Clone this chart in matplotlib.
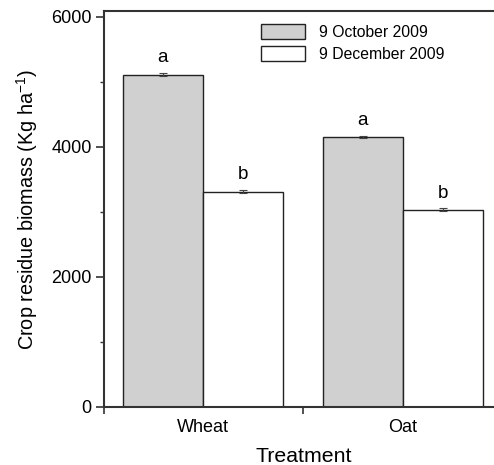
import matplotlib
matplotlib.use("Agg")
import matplotlib.pyplot as plt
import numpy as np
from matplotlib.ticker import FixedLocator, MultipleLocator
from matplotlib.patches import Patch

plt.rcParams['font.family'] = ['Liberation Sans', 'DejaVu Sans']

treatments = ["Wheat", "Oat"]
dates = ["9 October 2009", "9 December 2009"]
oct_vals = [5110, 4150]
dec_vals = [3310, 3030]
oct_err = [20, 20]
dec_err = [20, 20]
oct_letters = ["a", "a"]
dec_letters = ["b", "b"]

fig = plt.figure(figsize=(4.94, 4.65), dpi=100)
ax = fig.add_axes([104/494, 1-406.7/465, 399/494, (406.7-11)/465])

x = np.arange(len(treatments))
w = 0.4
ec = "#222222"
ekw = dict(ecolor="#444444", elinewidth=0.8, capsize=3, capthick=0.8)
ax.bar(x - w/2, oct_vals, w, color="#d0d0d0", edgecolor=ec, linewidth=1.0,
       yerr=oct_err, error_kw=ekw)
ax.bar(x + w/2, dec_vals, w, color="white", edgecolor=ec, linewidth=1.0,
       yerr=dec_err, error_kw=ekw)

for xi, v, e, t in zip(x - w/2, oct_vals, oct_err, oct_letters):
    ax.annotate(t, (xi, v + e), xytext=(0, 5), textcoords="offset points",
                ha="center", va="bottom", fontsize=13.5)
for xi, v, e, t in zip(x + w/2, dec_vals, dec_err, dec_letters):
    ax.annotate(t, (xi, v + e), xytext=(0, 5), textcoords="offset points",
                ha="center", va="bottom", fontsize=13.5)

ax.set_xlim(-0.495, 1.5)
ax.set_ylim(0, 6088)
ax.set_yticks([0, 2000, 4000, 6000])
ax.yaxis.set_minor_locator(MultipleLocator(1000))
ax.tick_params(axis="y", which="major", direction="out", length=6, width=1.2,
               labelsize=13, color="#333333", pad=3)
ax.tick_params(axis="y", which="minor", direction="out", length=3, width=1.0, color="#333333")

ax.set_xticks([-0.495, 0.5])
ax.set_xticklabels(["", ""])
ax.xaxis.set_minor_locator(FixedLocator(x))
ax.xaxis.set_minor_formatter(plt.FixedFormatter(treatments))
ax.tick_params(axis="x", which="major", direction="out", length=5, width=1.2, color="#333333")
ax.tick_params(axis="x", which="minor", length=0, labelsize=13, pad=9)

for s in ["left", "bottom", "top"]:
    ax.spines[s].set_linewidth(1.5)
    ax.spines[s].set_color("#333333")
ax.spines["right"].set_visible(False)

ax.set_xlabel("Treatment", fontsize=15.3, labelpad=8)
ax.set_ylabel("Crop residue biomass (Kg ha$^{\\mathregular{-1}}$)", fontsize=14.3, labelpad=8)

handles = [Patch(facecolor="#d0d0d0", edgecolor=ec, linewidth=1.0),
           Patch(facecolor="white", edgecolor=ec, linewidth=1.0)]
ax.legend(handles, dates, loc="upper left", bbox_to_anchor=(0.37, 0.99),
          frameon=False, fontsize=11.3, handlelength=2.8, handleheight=1.1,
          handletextpad=0.9, labelspacing=0.35, borderaxespad=0.2)

fig.savefig("out.png", dpi=100)
